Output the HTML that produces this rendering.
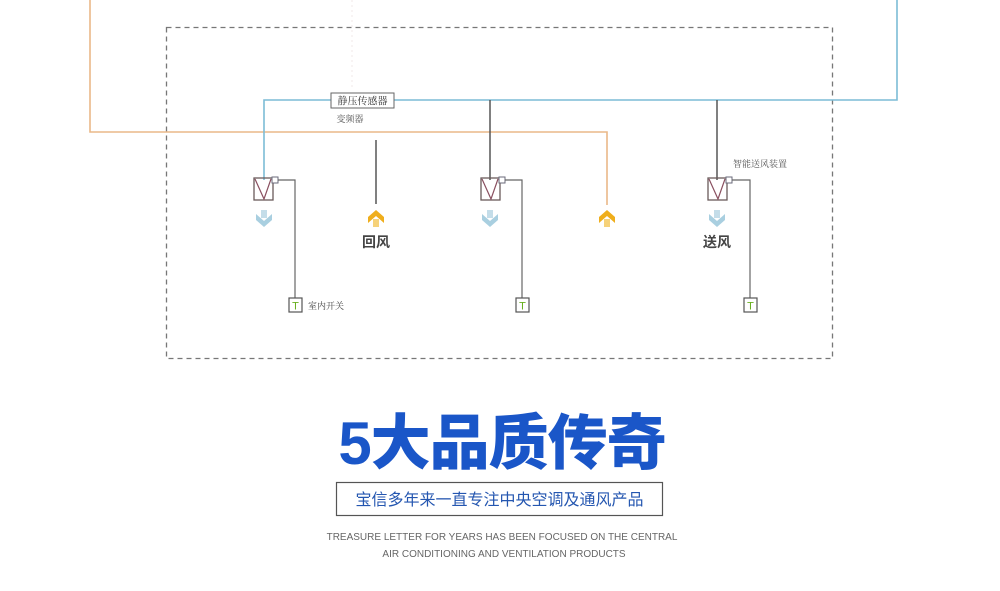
<!DOCTYPE html>
<html><head><meta charset="utf-8"><style>
html,body{margin:0;padding:0;background:#fff;width:1000px;height:591px;overflow:hidden}
</style></head><body>
<svg width="1000" height="591" viewBox="0 0 1000 591" xmlns="http://www.w3.org/2000/svg" style="position:absolute;left:0;top:0">
<defs>
<g id="dmp">
<rect x="0" y="0" width="19" height="22" fill="none" stroke="#6a5a5a" stroke-width="1.3"/>
<polyline points="1,1 10,21 17,1" fill="none" stroke="#8a5060" stroke-width="1.2"/>
<rect x="18" y="-1" width="6" height="6" fill="#fff" stroke="#6a6a7a" stroke-width="1"/>
</g>
<g id="down"><rect x="-3" y="-9" width="6" height="8" fill="#c4dde9"/><path d="M-8,-5 L0,2 L8,-5 L8,1 L0,8 L-8,1 z" fill="#a9cfe0"/></g>
<g id="up"><rect x="-3" y="1" width="6" height="8" fill="#f6d27a"/><path d="M-8,5 L0,-2 L8,5 L8,-1 L0,-8 L-8,-1 z" fill="#efae1c"/></g>
<g id="tb"><rect x="0" y="0" width="13" height="14" fill="#fff" stroke="#555" stroke-width="1.2"/><text x="6.5" y="11.5" font-size="11" fill="#6ab020" text-anchor="middle" font-family="Liberation Sans,sans-serif">T</text></g>
</defs>
<line x1="352" y1="0" x2="352" y2="90" stroke="#f0eaea" stroke-dasharray="2,3"/>
<rect x="166.5" y="27.5" width="666" height="331" fill="none" stroke="#777" stroke-width="1.3" stroke-dasharray="5,4"/>
<polyline points="90,0 90,132 607,132 607,205" fill="none" stroke="#eab888" stroke-width="1.6"/>
<polyline points="897,0 897,100 264,100 264,180" fill="none" stroke="#7cbcd6" stroke-width="1.6"/>
<rect x="331" y="93" width="63" height="15" fill="#fff" stroke="#666" stroke-width="1"/>
<text x="362.5" y="104.5" font-size="10" fill="#333" text-anchor="middle" font-family="Noto Serif CJK SC,serif">静压传感器</text>
<text x="350" y="122" font-size="9" fill="#555" text-anchor="middle" font-family="Noto Serif CJK SC,serif">变频器</text>
<line x1="376" y1="140" x2="376" y2="204" stroke="#555" stroke-width="1.5"/>
<line x1="490" y1="100" x2="490" y2="180" stroke="#555" stroke-width="1.5"/>
<line x1="717" y1="100" x2="717" y2="180" stroke="#555" stroke-width="1.5"/>
<use href="#dmp" x="254" y="178"/>
<use href="#dmp" x="481" y="178"/>
<use href="#dmp" x="708" y="178"/>
<polyline points="278,180 295,180 295,298" fill="none" stroke="#666" stroke-width="1.2"/>
<polyline points="505,180 522,180 522,298" fill="none" stroke="#666" stroke-width="1.2"/>
<polyline points="732,180 750,180 750,298" fill="none" stroke="#666" stroke-width="1.2"/>
<use href="#tb" x="289" y="298"/>
<use href="#tb" x="516" y="298"/>
<use href="#tb" x="744" y="298"/>
<use href="#down" x="264" y="219"/>
<use href="#down" x="490" y="219"/>
<use href="#down" x="717" y="219"/>
<use href="#up" x="376" y="218"/>
<use href="#up" x="607" y="218"/>
<text x="376" y="247" font-size="14" font-weight="bold" fill="#444" text-anchor="middle" font-family="Noto Sans CJK SC,sans-serif">回风</text>
<text x="717" y="247" font-size="14" font-weight="bold" fill="#444" text-anchor="middle" font-family="Noto Sans CJK SC,sans-serif">送风</text>
<text x="733" y="167" font-size="9" fill="#555" font-family="Noto Serif CJK SC,serif">智能送风装置</text>
<text x="308" y="309" font-size="9" fill="#444" font-family="Noto Serif CJK SC,serif">室内开关</text>
<text x="502" y="464" font-size="60" font-weight="900" fill="#1a56c8" text-anchor="middle" font-family="Liberation Sans,Noto Sans CJK SC,sans-serif" letter-spacing="-1">5大品质传奇</text>
<rect x="336.5" y="482.5" width="326" height="33" fill="#fff" stroke="#555" stroke-width="1.2"/>
<text x="499.5" y="505" font-size="16" fill="#2456b0" text-anchor="middle" font-family="Noto Sans CJK SC,sans-serif">宝信多年来一直专注中央空调及通风产品</text>
<text x="502" y="540" font-size="10" fill="#666" text-anchor="middle" font-family="Liberation Sans,sans-serif">TREASURE LETTER FOR YEARS HAS BEEN FOCUSED ON THE CENTRAL</text>
<text x="504" y="557" font-size="10" fill="#666" text-anchor="middle" font-family="Liberation Sans,sans-serif">AIR CONDITIONING AND VENTILATION PRODUCTS</text>
</svg>
</body></html>
